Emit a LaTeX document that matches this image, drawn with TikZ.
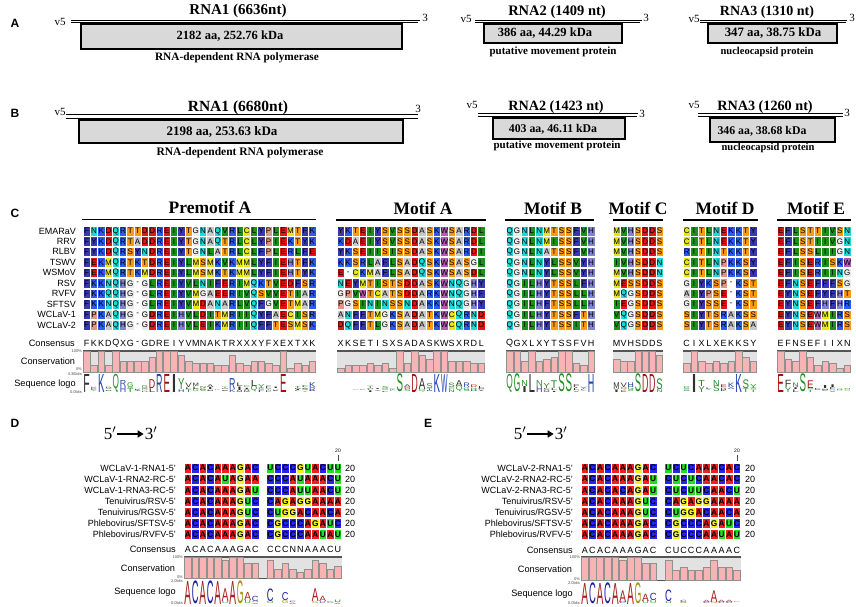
\documentclass[tikz,border=0pt]{standalone}
\usepackage{fontspec}
\setmainfont{Liberation Serif}
\setsansfont{Liberation Sans}
\usepackage{graphicx}
\usetikzlibrary{arrows.meta}

% residue colours (cells)
\definecolor{aaA}{HTML}{C8C8C8}\definecolor{aaG}{HTML}{EBEBEB}
\definecolor{aaR}{HTML}{2A5CF0}\definecolor{aaK}{HTML}{2A5CF0}
\definecolor{aaN}{HTML}{1ED8D8}\definecolor{aaQ}{HTML}{1ED8D8}
\definecolor{aaD}{HTML}{E61414}\definecolor{aaE}{HTML}{E61414}
\definecolor{aaC}{HTML}{E6E614}\definecolor{aaM}{HTML}{E6E614}
\definecolor{aaH}{HTML}{8282D2}\definecolor{aaP}{HTML}{DC9682}
\definecolor{aaI}{HTML}{1A921A}\definecolor{aaL}{HTML}{1A921A}\definecolor{aaV}{HTML}{1A921A}
\definecolor{aaF}{HTML}{3838B0}\definecolor{aaY}{HTML}{3838B0}
\definecolor{aaS}{HTML}{FA9A10}\definecolor{aaT}{HTML}{FA9A10}
\definecolor{aaW}{HTML}{B45AB4}
\definecolor{ntA}{HTML}{F02020}\definecolor{ntC}{HTML}{2424F0}
\definecolor{ntG}{HTML}{F5F020}\definecolor{ntU}{HTML}{22DD22}
% logo colours
\definecolor{lgD}{HTML}{A01010}\definecolor{lgE}{HTML}{A01010}
\definecolor{lgK}{HTML}{2040B0}\definecolor{lgR}{HTML}{2040B0}\definecolor{lgH}{HTML}{2040B0}
\definecolor{lgS}{HTML}{1E8E1E}\definecolor{lgT}{HTML}{1E8E1E}\definecolor{lgG}{HTML}{1E8E1E}
\definecolor{lgY}{HTML}{1E8E1E}\definecolor{lgC}{HTML}{1E8E1E}\definecolor{lgQ}{HTML}{1E8E1E}
\definecolor{lgN}{HTML}{1E8E1E}
\definecolor{lgA}{HTML}{303030}\definecolor{lgV}{HTML}{303030}\definecolor{lgL}{HTML}{303030}
\definecolor{lgI}{HTML}{303030}\definecolor{lgP}{HTML}{303030}\definecolor{lgW}{HTML}{2040B0}
\definecolor{lgF}{HTML}{303030}\definecolor{lgM}{HTML}{303030}
\definecolor{lnA}{HTML}{A82020}\definecolor{lnC}{HTML}{2020A0}
\definecolor{lnG}{HTML}{A89010}\definecolor{lnU}{HTML}{20A020}
\definecolor{boxgray}{HTML}{D9D9D9}
\definecolor{bggray}{HTML}{E2E2E2}
\definecolor{barpink}{HTML}{F6B4B4}
\definecolor{bargray}{HTML}{909090}
\definecolor{lineg}{HTML}{555555}

\tikzset{
  panel/.style={font=\sffamily\bfseries\fontsize{12}{12}\selectfont, inner sep=0pt},
  rnatitle/.style={font=\bfseries\fontsize{#1}{#1}\selectfont, inner sep=0pt},
  prottxt/.style={font=\bfseries\fontsize{#1}{#1}\selectfont, inner sep=0pt},
  desctxt/.style={font=\bfseries\fontsize{#1}{#1}\selectfont, inner sep=0pt},
  endlab/.style={font=\fontsize{11}{11}\selectfont, inner sep=0pt},
  rnaline/.style={line width=1pt, black},
  protbox/.style={fill=boxgray, draw=black, line width=1.4pt},
  motif/.style={font=\bfseries\fontsize{17.5}{17.5}\selectfont, inner sep=0pt},
  rule/.style={line width=1.4pt, black},
  rowlab/.style={font=\sffamily\fontsize{9}{9}\selectfont, inner sep=0pt, anchor=east},
  sidelab/.style={font=\sffamily\fontsize{9.2}{9.2}\selectfont, inner sep=0pt},
  ticklab/.style={font=\sffamily\fontsize{4}{4}\selectfont, inner sep=0pt, anchor=east, text=black!70},
  celltxt/.style={font=\cellfont, inner sep=0pt},
  constxt/.style={font=\sffamily\fontsize{9}{9}\selectfont, inner sep=0pt},
  primetxt/.style={font=\fontsize{17}{17}\selectfont, inner sep=0pt},
}

\newcommand\drawcell[3]{%
  \if-#3%
    \node[celltxt] at (#1,#2) {-};%
  \else
    \fill[fill=\cpre#3, draw=white, line width=0.6pt] (#1-\bp/2,#2-\bch/2) rectangle (#1+\bp/2,#2+\bch/2);%
    \node[celltxt] at (#1,#2) {#3};%
  \fi}
\newcommand\drawcons[2]{\node[constxt] at (#1,\bcy) {#2};}
\newcommand\drawbar[2]{%
  \fill[barpink, draw=bargray, line width=0.5pt] (#1-\bp/2+0.35,\bbot) rectangle (#1+\bp/2-0.35,{\bbot-#2*(\bbot-\btop)});}
\newcommand\drawlogo[4]{%
  \if-#4\else
    \ifdim#3pt>0.5pt
      \node[inner sep=0pt, outer sep=0pt, anchor=south, text=\lpre#4] at (#1,#2) {\resizebox*{\lw pt}{#3pt}{\sffamily #4}};%
    \fi
  \fi}
\newcommand\consbg[2]{%
  \fill[bggray] (#1,\btop) rectangle (#1+#2*\bp,\bbot);
  \draw[lineg, line width=1.2pt] (#1,\btop) -- (#1+#2*\bp,\btop);
  \draw[lineg, line width=0.8pt] (#1,\bbot) -- (#1+#2*\bp,\bbot);}

\ExplSyntaxOn
\int_new:N \l_al_col_int
\int_new:N \l_al_row_int
\int_new:N \l_al_r_int
\int_new:N \l_al_s_int
\int_new:N \l_al_n_int
\int_new:N \l_al_len_int
\int_new:N \l_al_max_int
\int_new:N \l_al_cnt_int
\bool_new:N \l_al_earlier_bool
\fp_new:N \l_al_H_fp
\fp_new:N \l_al_stack_fp
\fp_new:N \l_al_off_fp
\fp_new:N \l_al_x_fp
\fp_new:N \l_al_h_fp
\seq_new:N \l_al_rows_seq
\seq_new:N \l_al_let_seq
\tl_new:N \l_al_ch_tl
\tl_new:N \l_al_top_tl
\str_new:N \l_al_first_str

\cs_new_protected:Npn \al_letter:nn #1#2
 {
  \str_if_eq:eeF {#1} { \l_al_top_tl }
   {
    \fp_set:Nn \l_al_h_fp { \l_al_stack_fp * #2 / \l_al_n_int }
    \use:e
     {
      \exp_not:N \drawlogo
       { \fp_eval:n { \l_al_x_fp } }
       { \fp_eval:n { \blbot - \l_al_off_fp } }
       { \fp_eval:n { \l_al_h_fp } }
       { #1 }
     }
    \fp_add:Nn \l_al_off_fp { \l_al_h_fp }
   }
 }

\NewDocumentCommand \alignblock { m m }
 {
  \seq_set_from_clist:Nn \l_al_rows_seq {#1}
  \int_set:Nn \l_al_n_int { \seq_count:N \l_al_rows_seq }
  \int_zero:N \l_al_row_int
  \seq_map_inline:Nn \l_al_rows_seq
   {
    \int_zero:N \l_al_col_int
    \str_map_inline:nn {##1}
     {
      \str_if_eq:nnF {####1} {.}
       {
        \use:e
         {
          \exp_not:N \drawcell
           { \fp_eval:n { \bx + (\l_al_col_int + 0.5) * \bp } }
           { \fp_eval:n { \by + \l_al_row_int * \brp } }
           { ####1 }
         }
       }
      \int_incr:N \l_al_col_int
     }
    \int_incr:N \l_al_row_int
   }
  \int_zero:N \l_al_col_int
  \str_map_inline:nn {#2}
   {
    \str_if_eq:nnF {##1} {.}
     {
      \use:e
       {
        \exp_not:N \drawcons
         { \fp_eval:n { \bx + (\l_al_col_int + 0.5) * \bp } }
         { ##1 }
       }
     }
    \int_incr:N \l_al_col_int
   }
  \str_set:Nx \l_al_first_str { \seq_item:Nn \l_al_rows_seq {1} }
  \int_set:Nn \l_al_len_int { \str_count:N \l_al_first_str }
  \int_step_inline:nn { \l_al_len_int }
   {
    \str_if_eq:eeF { \str_item:Nn \l_al_first_str {##1} } {.}
     {
      \fp_set:Nn \l_al_x_fp { \bx + (##1 - 0.5) * \bp }
      \int_zero:N \l_al_max_int
      \fp_zero:N \l_al_H_fp
      \seq_clear:N \l_al_let_seq
      \int_zero:N \l_al_r_int
      \seq_map_inline:Nn \l_al_rows_seq
       {
        \int_incr:N \l_al_r_int
        \tl_set:Nx \l_al_ch_tl { \str_item:nn {####1} {##1} }
        \int_zero:N \l_al_cnt_int
        \int_zero:N \l_al_s_int
        \bool_set_false:N \l_al_earlier_bool
        \seq_map_inline:Nn \l_al_rows_seq
         {
          \int_incr:N \l_al_s_int
          \str_if_eq:eeT { \str_item:nn {########1} {##1} } { \l_al_ch_tl }
           {
            \int_incr:N \l_al_cnt_int
            \int_compare:nNnT { \l_al_s_int } < { \l_al_r_int }
             { \bool_set_true:N \l_al_earlier_bool }
           }
         }
        \fp_sub:Nn \l_al_H_fp { ln ( \l_al_cnt_int / \l_al_n_int ) / ln(2) / \l_al_n_int }
        \int_compare:nNnT { \l_al_cnt_int } > { \l_al_max_int }
         {
          \int_set_eq:NN \l_al_max_int \l_al_cnt_int
          \tl_set_eq:NN \l_al_top_tl \l_al_ch_tl
         }
        \bool_if:NF \l_al_earlier_bool
         { \seq_put_right:Nx \l_al_let_seq { { \l_al_ch_tl } { \int_use:N \l_al_cnt_int } } }
       }
      \use:e
       {
        \exp_not:N \drawbar
         { \fp_eval:n { \l_al_x_fp } }
         { \fp_eval:n { \l_al_max_int / \l_al_n_int } }
       }
      \fp_set:Nn \l_al_stack_fp
       { max(0, \bmaxbits - \l_al_H_fp - \bcorr) / (\bmaxbits - \bcorr) * (\blbot - \bltop) }
      \fp_zero:N \l_al_off_fp
      \seq_map_inline:Nn \l_al_let_seq { \al_letter:nn ####1 }
      \fp_set:Nn \l_al_h_fp { \l_al_stack_fp * \l_al_max_int / \l_al_n_int }
      \use:e
       {
        \exp_not:N \drawlogo
         { \fp_eval:n { \l_al_x_fp } }
         { \fp_eval:n { \blbot - \l_al_off_fp } }
         { \fp_eval:n { \l_al_h_fp } }
         { \l_al_top_tl }
       }
     }
   }
 }
\ExplSyntaxOff

\begin{document}
\begin{tikzpicture}[x=1pt,y=-1pt]
\fill[white] (0,0) rectangle (856,607);
\useasboundingbox (0,0) rectangle (856,607);

% ================= Panel A =================
\node[panel] (lA) at (15,23) {A};
% RNA1
\node[rnatitle=15] (a1t) at (238,11) {RNA1 (6636nt)};
\draw[rnaline] (71,20.2) -- (420,20.2);
\draw[rnaline] (71,22.6) -- (418,22.6);
\node[endlab] (a1v) at (60,22) {v5};
\node[endlab] (a1e) at (425,18) {3};
\draw[protbox] (81,24) rectangle (402,49);
\node[prottxt=12.5] (a1p) at (230,36.5) {2182 aa, 252.76 kDa};
\node[desctxt=11.3] (a1d) at (237,58) {RNA-dependent RNA polymerase};
% RNA2
\node[rnatitle=14.5] (a2t) at (557,12) {RNA2 (1409 nt)};
\draw[rnaline] (475,20.2) -- (642,20.2);
\draw[rnaline] (475,22.6) -- (640,22.6);
\node[endlab] (a2v) at (466,19) {v5};
\node[endlab] (a2e) at (646,17.5) {3};
\draw[protbox] (484,24) rectangle (622,43);
\node[prottxt=12.5] (a2p) at (545,33.5) {386 aa, 44.29 kDa};
\node[desctxt=11] (a2d) at (553,52) {putative movement protein};
% RNA3
\node[rnatitle=14] (a3t) at (767,12) {RNA3 (1310 nt)};
\draw[rnaline] (700,20.2) -- (847,20.2);
\draw[rnaline] (700,22.6) -- (846,22.6);
\node[endlab] (a3v) at (694,18.5) {v5};
\node[endlab] (a3e) at (852,18) {3};
\draw[protbox] (708,24) rectangle (837,43);
\node[prottxt=12.8] (a3p) at (773,33.5) {347 aa, 38.75 kDa};
\node[desctxt=10.5] (a3d) at (767,52) {nucleocapsid protein};

% ================= Panel B =================
\node[panel] (lB) at (15,113) {B};
\node[rnatitle=15.5] (b1t) at (238,108) {RNA1 (6680nt)};
\draw[rnaline] (66,114.8) -- (418,114.8);
\draw[rnaline] (66,118.8) -- (418,118.8);
\node[endlab] (b1v) at (60,112) {v5};
\node[endlab] (b1e) at (418,109) {3};
\draw[protbox] (79,120) rectangle (403,143);
\node[prottxt=13] (b1p) at (222,132) {2198 aa, 253.63 kDa};
\node[desctxt=11.5] (b1d) at (240,153) {RNA-dependent RNA polymerase};
% RNA2
\node[rnatitle=14.2] (b2t) at (556,107) {RNA2 (1423 nt)};
\draw[rnaline] (478,114) -- (638,114);
\draw[rnaline] (478,117) -- (637,117);
\node[endlab] (b2v) at (472,105) {v5};
\node[endlab] (b2e) at (642,114) {3};
\draw[protbox] (493,118) rectangle (625,139);
\node[prottxt=11.8] (b2p) at (553,129) {403 aa, 46.11 kDa};
\node[desctxt=11] (b2d) at (557,146) {putative movement protein};
% RNA3
\node[rnatitle=14.2] (b3t) at (765,107) {RNA3 (1260 nt)};
\draw[rnaline] (698,114) -- (843,114);
\draw[rnaline] (698,117) -- (843,117);
\node[endlab] (b3v) at (694,105) {v5};
\node[endlab] (b3e) at (847,113) {3};
\draw[protbox] (710,118) rectangle (835,142);
\node[prottxt=11.8] (b3p) at (762,131) {346 aa, 38.68 kDa};
\node[desctxt=10.5] (b3d) at (768,148) {nucleocapsid protein};

% ================= Panel C =================
\node[panel] (lC) at (15,213) {C};
\node[motif] (mPA) at (210,207) {Premotif A};
\draw[rule] (82,219.5) -- (316,219.5);
\node[motif] (mA) at (423,208) {Motif A};
\draw[rule] (336,220) -- (486,220);
\node[motif] (mB) at (553,208) {Motif B};
\draw[rule] (505,220) -- (594,220);
\node[motif] (mC) at (638,208) {Motif C};
\draw[rule] (613,220) -- (663,220);
\node[motif] (mD) at (725,208) {Motif D};
\draw[rule] (683,220) -- (758,220);
\node[motif] (mE) at (816,208) {Motif E};
\draw[rule] (777,220) -- (851,220);

\foreach \nm [count=\i from 0] in {EMARaV,RRV,RLBV,TSWV,WSMoV,RSV,RVFV,SFTSV,WCLaV-1,WCLaV-2}
  \node[rowlab] (sp\i) at (76,231+\i*10.45) {\nm};
\node[sidelab, anchor=east] (cC) at (75,343) {Consensus};
\node[sidelab] (vC) at (48,361) {Conservation};
\node[sidelab] (sC) at (45,384) {Sequence logo};
\node[ticklab] (t1C) at (82,351) {100\%};
\node[ticklab] (t2C) at (82,369) {0\%};
\node[ticklab] (t3C) at (82,374.5) {4.36bits};
\node[ticklab] (t4C) at (82,392) {0.0bits};

\def\cellfont{\sffamily\fontsize{8}{8}\selectfont}
\def\by{231}\def\brp{10.45}\def\bch{9.6}\def\bcy{343}
\def\btop{351}\def\bbot{372}\def\bltop{374}\def\blbot{392}
\def\bmaxbits{4.32}\def\bcorr{1.37}\def\cpre{aa}\def\lpre{lg}

\def\bx{83}\def\bp{7.28}\def\lw{6.4}
\consbg{83}{32}
\alignblock{FNKDQRTTDDREIYTGNAQVRLCLYPLEMTFK,FYKDQRTADDREIYTGNAQTRLCLYPIEKTYK,FYKDQRSYNDREIYTGNLATRLCLFPLERLFE,FEKMQRTKTDREIYLMSMKVKMMLYFIEHTFK,FEKMQRTKMDREIYLMSMKTKMMLYFIEHTYK,FKKNQHG-GLREIYVLNIFERIMQKTVEDFSR,FKKQQHG-GLREIYVMGAEERIVQSVVETIAR,FKKNQHG-GLREIYVMDANARLVQFGVETMAR,FPKAQHG-GDREIHVLDITMRIIQYFAECISR,FPKAQHG-GDREIHVLEIKMRIIQFFTESMSK}{FKKDQXG-GDREIYVMNAKTRXXXYFXEXTXK}

\def\bx{337}\def\bp{7.4}\def\lw{6.5}
\consbg{337}{20}
\alignblock{YKTEIYSVSSDASKWSARDL,KDAEIYSVSSDASKWSARDL,YKSEIISISSDASKWSARDI,KKSRLAFLSADQSKWSASGL,E-CKMAFLSADQSKWSASDL,NEYMTISTSDDASKWNQGHY,GPVWTCATSDDARKWNQGHF,PGSININSSNDAKKWNQGHY,ANFFTMGKSADATKWCQRND,DQFFTLGKSADATKWCQRND}{XKSETISXSADASKWSXRDL}

\def\bx{506}\def\bp{7.4}\def\lw{6.5}
\consbg{506}{12}
\alignblock{QGNLNMTSSFVH,QGNLNMISSFVH,QGNLNATSSFVH,QGNLNYLSSVYH,QGNLNYLSSVYH,QGILHYTSSLFH,QGILHYTSSLLH,QGILHFTSSLLH,QGILHYTSSFTH,QGILHYTSSITH}{QGXLXYTSSFVH}

\def\bx{613}\def\bp{7.15}\def\lw{6.3}
\consbg{613}{7}
\alignblock{MVHSDDS,MVHSDDS,MVHSDDS,IVHSDDN,MVHSDDN,MESSDDS,MQGSDDS,IEGSDDS,VQGSDDS,VQGSDDS}{MVHSDDS}

\def\bx{683}\def\bp{7.4}\def\lw{6.5}
\consbg{683}{10}
\alignblock{CITLNEKKTY,CITLNEKKTY,RITINTKKTY,CITLNPKKSY,CITLNPKKSY,GIYKSP-KST,AIYPSE-KST,GIYSSE-KST,SIYTSRAKSS,SIYTSRAKSA}{CIXLXEKKSY}

\def\bx{777}\def\bp{7.4}\def\lw{6.5}
\consbg{777}{10}
\alignblock{EFLSTTIVSN,EFLSTIIVGN,EFLSSLIIGN,EFISERISKW,EFISERIING,EFNSEFFFSG,EYNSEFYFHT,EYNSEFHFHR,EYNSEWMIRS,EYNSEWMIRS}{EFNSEFIIXN}

% ================= Panel D =================
\node[panel] (lD) at (15,423) {D};
\node[primetxt] (f5D) at (110,433) {5$'$};
\node[primetxt] (f3D) at (151,433) {3$'$};
\path (f5D.east) ++(1,1) coordinate (aD1) (f3D.west) ++(-1,1) coordinate (aD2);
\draw[-{Triangle[length=6pt,width=7pt]}, line width=1.7pt] (aD1) -- (aD2);

\foreach \nm [count=\i from 0] in {WCLaV-1-RNA1-5',WCLaV-1-RNA2-RC-5',WCLaV-1-RNA3-RC-5',Tenuivirus/RSV-5',Tenuivirus/RGSV-5',Phlebovirus/SFTSV-5',Phlebovirus/RVFV-5'}{
  \node[rowlab] (dl\i) at (176,468+\i*11.1) {\nm};
  \node[rowlab, anchor=west] (dn\i) at (345,468+\i*11.1) {20};
}
\node[font=\sffamily\fontsize{5}{5}\selectfont, inner sep=0pt] (dr20) at (338,451) {20};
\draw[black!70, line width=0.6pt] (338,455) -- (338,460.5);
\node[sidelab, anchor=east] (cD) at (176,549) {Consensus};
\node[sidelab] (vD) at (148,568) {Conservation};
\node[sidelab] (sD) at (145,592) {Sequence logo};
\node[ticklab] (t1D) at (183,557) {100\%};
\node[ticklab] (t2D) at (183,577) {0\%};
\node[ticklab] (t3D) at (183,581) {2.0bits};
\node[ticklab] (t4D) at (183,603.5) {0.0bits};

\def\cellfont{\sffamily\bfseries\fontsize{8.3}{8.3}\selectfont}
\def\by{468}\def\brp{11.1}\def\bch{10}\def\bcy{549}
\def\btop{557}\def\bbot{578}\def\bltop{581}\def\blbot{604}
\def\bmaxbits{2}\def\bcorr{0.31}\def\cpre{nt}\def\lpre{ln}
\def\bx{184}\def\bp{7.5}\def\lw{6.7}
\consbg{184}{21}
\alignblock{ACACAAAGAC.UCCCGUACUU,ACACAUAGAA.CCCAUAAACU,ACACAAAGAU.CCCAUUAACU,ACACAAAGUC.CAGAGGAAAA,ACACAAAGUC.CUGGACAACA,ACACAAAGAC.CGCCCAGAUC,ACACAAAGAC.CGCCCAAUAU}{ACACAAAGAC.CCCNNAAACU}

% ================= Panel E =================
\node[panel] (lE) at (428,423) {E};
\node[primetxt] (f5E) at (520,433) {5$'$};
\node[primetxt] (f3E) at (561,433) {3$'$};
\path (f5E.east) ++(1,1) coordinate (aE1) (f3E.west) ++(-1,1) coordinate (aE2);
\draw[-{Triangle[length=6pt,width=7pt]}, line width=1.7pt] (aE1) -- (aE2);

\foreach \nm [count=\i from 0] in {WCLaV-2-RNA1-5',WCLaV-2-RNA2-RC-5',WCLaV-2-RNA3-RC-5',Tenuivirus/RSV-5',Tenuivirus/RGSV-5',Phlebovirus/SFTSV-5',Phlebovirus/RVFV-5'}{
  \node[rowlab] (el\i) at (573,468+\i*11.1) {\nm};
  \node[rowlab, anchor=west] (en\i) at (745,468+\i*11.1) {20};
}
\node[font=\sffamily\fontsize{5}{5}\selectfont, inner sep=0pt] (er20) at (737,451) {20};
\draw[black!70, line width=0.6pt] (737,455) -- (737,460.5);
\node[sidelab, anchor=east] (cE) at (573,550) {Consensus};
\node[sidelab] (vE) at (545,569) {Conservation};
\node[sidelab] (sE) at (542,594) {Sequence logo};
\node[ticklab] (t1E) at (580,557) {100\%};
\node[ticklab] (t2E) at (580,579) {0\%};
\node[ticklab] (t3E) at (580,583) {2.0bits};
\node[ticklab] (t4E) at (580,603.5) {0.0bits};

\def\by{468}\def\bcy{550}
\def\btop{557}\def\bbot{580}\def\bltop{583}\def\blbot{604}
\def\bx{581}\def\bp{7.6}\def\lw{6.8}
\consbg{581}{21}
\alignblock{ACACAAAGAC.UCUCAAACAC,ACACAAAGAU.CUCUCAACAC,ACACACAGAU.CUCUUCAACU,ACACAAAGUC.CAGAGGAAAA,ACACAAAGUC.CUGGACAACA,ACACAAAGAC.CGCCCAGAUC,ACACAAAGAC.CGCCCAAUAU}{ACACAAAGAC.CUCCCAAAAC}

\end{tikzpicture}
\end{document}
